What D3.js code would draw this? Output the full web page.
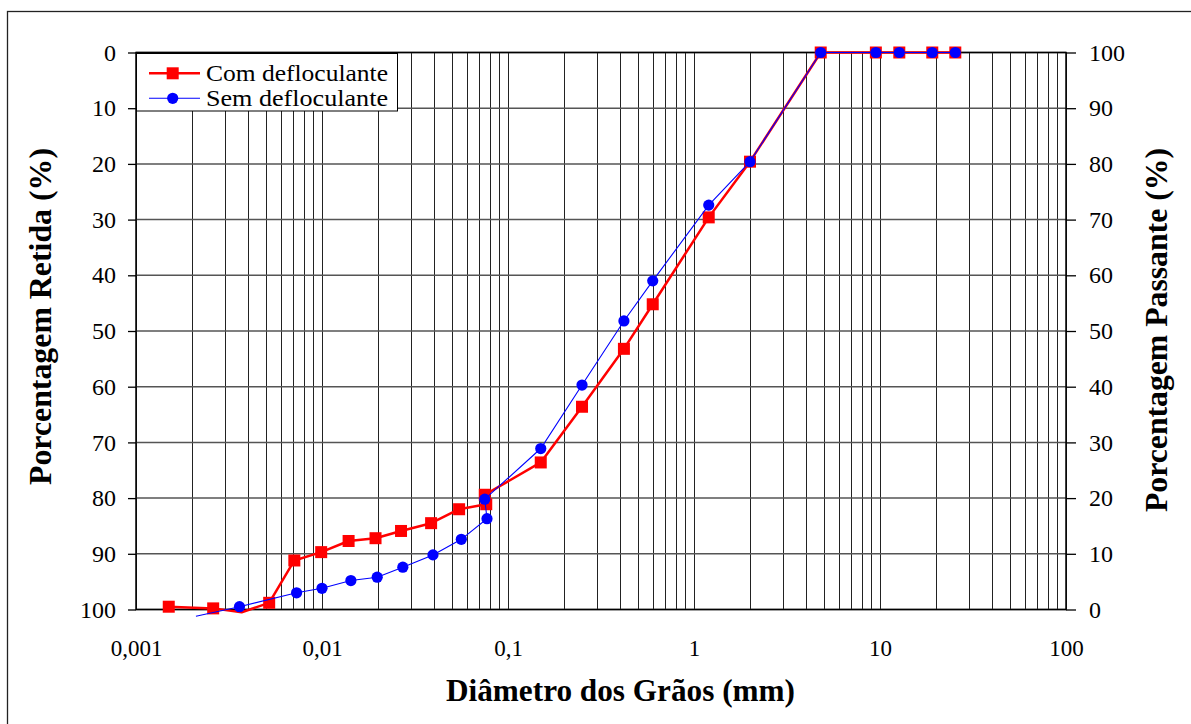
<!DOCTYPE html>
<html>
<head>
<meta charset="utf-8">
<script src="https://cdn.jsdelivr.net/npm/d3@7"></script>
<style>
  body { margin: 0; background: #fff; }
  svg { display: block; }
  text { font-family: "Liberation Serif", "Times New Roman", serif; fill: #000; }
</style>
</head>
<body>
<svg id="chart" width="1191" height="724"></svg>
<script>
// Curva granulométrica: diâmetro (mm) e porcentagem retida (%)
// Com defloculante: peneiramento seguido de sedimentação
const diametroCom = [25.4, 19.1, 12.7, 9.5, 4.8, 2.0, 1.2, 0.6, 0.42, 0.25, 0.15, 0.075,
                     0.0764, 0.0546, 0.0386, 0.0266, 0.0194, 0.0139, 0.0099, 0.0071, 0.0052, 0.0037, 0.0026, 0.0015];
const retidaCom   = [0, 0, 0, 0, 0, 19.6, 29.6, 45.2, 53.2, 63.6, 73.6, 79.4,
                     81.1, 82.0, 84.5, 85.9, 87.2, 87.7, 89.7, 91.2, 98.8, 100.5, 99.8, 99.5];

// Sem defloculante
const diametroSem = [25.4, 19.1, 12.7, 9.5, 4.8, 2.0, 1.2, 0.6, 0.42, 0.25, 0.15, 0.075,
                     0.0771, 0.0561, 0.0395, 0.0272, 0.0198, 0.0143, 0.0100, 0.0073, 0.0036, 0.0021];
const retidaSem   = [0, 0, 0, 0, 0, 19.6, 27.4, 41.0, 48.2, 59.7, 71.1, 80.2,
                     83.7, 87.4, 90.2, 92.4, 94.2, 94.8, 96.2, 97.0, 99.5, 101.2];

const xTicks = [0.001, 0.01, 0.1, 1, 10, 100];
const xTickLabels = ["0,001", "0,01", "0,1", "1", "10", "100"];
const yTicks = [0, 10, 20, 30, 40, 50, 60, 70, 80, 90, 100];
const seriesNames = ["Com defloculante", "Sem defloculante"];

const svg = d3.select("#chart");

const x = d3.scaleLog().domain([0.001, 100]).range([136, 1066]);
const y = d3.scaleLinear().domain([0, 100]).range([52.5, 609.5]);
const yPassante = d3.scaleLinear().domain([100, 0]).range([52.5, 609.5]);

// moldura externa
svg.append("rect")
  .attr("x", 7.5).attr("y", 11.5).attr("width", 1400).attr("height", 1000)
  .attr("fill", "none").attr("stroke", "#222").attr("stroke-width", 1.3);

// grade vertical (1..9 em cada década)
const vLines = [];
for (let e = -3; e < 2; e++) {
  for (let m = 1; m <= 9; m++) vLines.push(m * Math.pow(10, e));
}
vLines.push(100);
svg.append("g").selectAll("line").data(vLines).join("line")
  .attr("x1", d => Math.round(x(d)) + 0.5).attr("x2", d => Math.round(x(d)) + 0.5)
  .attr("y1", y(0)).attr("y2", y(100))
  .attr("stroke", "#222").attr("stroke-width", 1);

// grade horizontal
svg.append("g").selectAll("line").data(yTicks).join("line")
  .attr("x1", x.range()[0]).attr("x2", x.range()[1])
  .attr("y1", d => y(d)).attr("y2", d => y(d))
  .attr("stroke", "#555").attr("stroke-width", 1.5);

// contorno da área de plotagem
svg.append("rect")
  .attr("x", x.range()[0]).attr("y", y(0))
  .attr("width", x.range()[1] - x.range()[0]).attr("height", y(100) - y(0))
  .attr("fill", "none").attr("stroke", "#000").attr("stroke-width", 1.5);

// eixo esquerdo: porcentagem retida
const axL = svg.append("g").attr("transform", `translate(${x.range()[0]},0)`)
  .call(d3.axisLeft(y).tickValues(yTicks).tickSize(8).tickPadding(12));
axL.select(".domain").remove();
axL.selectAll("line").attr("stroke", "#000").attr("stroke-width", 1.3);
axL.selectAll("text").attr("font-size", 24);

// eixo direito: porcentagem passante
const axR = svg.append("g").attr("transform", `translate(${x.range()[1]},0)`)
  .call(d3.axisRight(yPassante).tickValues(yTicks).tickSize(10).tickPadding(13));
axR.select(".domain").remove();
axR.selectAll("line").attr("stroke", "#000").attr("stroke-width", 1.3);
axR.selectAll("text").attr("font-size", 24);

// eixo inferior: diâmetro
const axB = svg.append("g").attr("transform", `translate(0,${y(100)})`)
  .call(d3.axisBottom(x).tickValues(xTicks).tickFormat((d, i) => xTickLabels[i]).tickSize(0).tickPadding(30));
axB.select(".domain").remove();
axB.selectAll("text").attr("font-size", 23);

// títulos dos eixos
svg.append("text")
  .attr("transform", "translate(51,316.5) rotate(-90)")
  .attr("text-anchor", "middle").attr("font-size", 31).attr("font-weight", "bold")
  .attr("textLength", 337).attr("lengthAdjust", "spacingAndGlyphs")
  .text("Porcentagem Retida (%)");
svg.append("text")
  .attr("transform", "translate(1167,330) rotate(-90)")
  .attr("text-anchor", "middle").attr("font-size", 31).attr("font-weight", "bold")
  .attr("textLength", 364).attr("lengthAdjust", "spacingAndGlyphs")
  .text("Porcentagem Passante (%)");
svg.append("text")
  .attr("x", 620.5).attr("y", 701)
  .attr("text-anchor", "middle").attr("font-size", 31).attr("font-weight", "bold")
  .attr("textLength", 349).attr("lengthAdjust", "spacingAndGlyphs")
  .text("Diâmetro dos Grãos (mm)");

// séries
const com = diametroCom.map((d, i) => ({ d, r: retidaCom[i] }));
const sem = diametroSem.map((d, i) => ({ d, r: retidaSem[i] }));
const line = d3.line().x(p => x(p.d)).y(p => y(p.r));
const inRange = p => p.r >= 0 && p.r <= 100;

svg.append("path").datum(com).attr("d", line)
  .attr("fill", "none").attr("stroke", "#ff0000").attr("stroke-width", 2.5).attr("stroke-linejoin", "round");
svg.append("g").selectAll("rect").data(com.filter(inRange)).join("rect")
  .attr("x", p => x(p.d) - 6).attr("y", p => y(p.r) - 6)
  .attr("width", 12).attr("height", 12).attr("fill", "#ff0000");

svg.append("path").datum(sem).attr("d", line)
  .attr("fill", "none").attr("stroke", "#0000ff").attr("stroke-width", 1.1);
svg.append("g").selectAll("circle").data(sem.filter(inRange)).join("circle")
  .attr("cx", p => x(p.d)).attr("cy", p => y(p.r)).attr("r", 5.6)
  .attr("fill", "#0000ff");

// legenda
const lg = svg.append("g");
lg.append("rect").attr("x", 136.5).attr("y", 53.5).attr("width", 261).attr("height", 57.5)
  .attr("fill", "#fff").attr("stroke", "#000").attr("stroke-width", 1);
const ly = [73.3, 98.3];
lg.append("line").attr("x1", 149).attr("x2", 200).attr("y1", ly[0]).attr("y2", ly[0])
  .attr("stroke", "#ff0000").attr("stroke-width", 2.5);
lg.append("rect").attr("x", 172.7 - 6).attr("y", ly[0] - 6).attr("width", 12).attr("height", 12).attr("fill", "#ff0000");
lg.append("line").attr("x1", 149).attr("x2", 200).attr("y1", ly[1]).attr("y2", ly[1])
  .attr("stroke", "#0000ff").attr("stroke-width", 1.1);
lg.append("circle").attr("cx", 172.7).attr("cy", ly[1]).attr("r", 5.6).attr("fill", "#0000ff");
lg.selectAll("text.nome").data(seriesNames).join("text").attr("class", "nome")
  .attr("x", 206).attr("y", (d, i) => ly[i] + 8)
  .attr("font-size", 24).attr("textLength", 182).attr("lengthAdjust", "spacingAndGlyphs")
  .text(d => d);
</script>
</body>
</html>
